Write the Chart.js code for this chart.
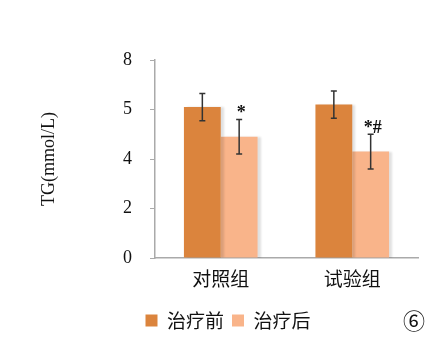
<!DOCTYPE html>
<html>
<head>
<meta charset="utf-8">
<script src="https://cdn.jsdelivr.net/npm/chart.js@4"></script>
<style>
  html, body { margin: 0; padding: 0; background: #fff; }
  #wrap { width: 442px; height: 355px; }
</style>
</head>
<body>
<div id="wrap"><canvas id="chart"></canvas></div>
<script>
// données
var groupes = ['对照组', '试验组'];
var avant = [6.1, 6.2];
var avantErr = [0.55, 0.55];
var apres = [4.9, 4.3];
var apresErr = [0.7, 0.7];
var marques = ['*', '*#'];
var yTicks = ['0', '2', '4', '5', '8'];

var serif = '"Liberation Serif", "DejaVu Serif", serif';
var cjk = '"Noto Sans CJK SC", sans-serif';

// barres d'erreur + astérisques
var errorBars = {
  id: 'errorBars',
  afterDatasetsDraw: function (chart) {
    var ctx = chart.ctx;
    var y = chart.scales.y;
    var errs = [avantErr, apresErr];
    ctx.save();
    ctx.strokeStyle = '#333';
    ctx.lineWidth = 1.5;
    chart.data.datasets.forEach(function (ds, i) {
      var meta = chart.getDatasetMeta(i);
      meta.data.forEach(function (bar, j) {
        var v = ds.data[j], e = errs[i][j];
        var top = y.getPixelForValue(v + e);
        var bot = y.getPixelForValue(v - e);
        ctx.beginPath();
        ctx.moveTo(bar.x, top); ctx.lineTo(bar.x, bot);
        ctx.moveTo(bar.x - 3, top); ctx.lineTo(bar.x + 3, top);
        ctx.moveTo(bar.x - 3, bot); ctx.lineTo(bar.x + 3, bot);
        ctx.stroke();
        if (i === 1) {
          ctx.fillStyle = '#111';
          ctx.font = 'bold 18px ' + serif;
          ctx.textAlign = 'center';
          ctx.textBaseline = 'alphabetic';
          ctx.fillText(marques[j], bar.x + 2, top - 1);
        }
      });
    });
    ctx.restore();
    // numéro de la figure
    ctx.save();
    ctx.fillStyle = '#111';
    ctx.font = '22px "Noto Sans CJK SC", sans-serif';
    ctx.textAlign = 'center';
    ctx.textBaseline = 'middle';
    ctx.fillText('⑥', 414, 321);
    ctx.restore();
  }
};

// ombre légère à droite des barres
var ombre = {
  id: 'ombre',
  beforeDatasetDraw: function (chart) {
    var ctx = chart.ctx;
    ctx.save();
    ctx.shadowColor = 'rgba(0,0,0,0.12)';
    ctx.shadowOffsetX = 3;
    ctx.shadowOffsetY = 0;
    ctx.shadowBlur = 2;
  },
  afterDatasetDraw: function (chart) {
    chart.ctx.restore();
  }
};

var ctx = document.getElementById('chart').getContext('2d');
var myChart = new Chart(ctx, {
  type: 'bar',
  data: {
    labels: groupes,
    datasets: [{
      label: '治疗前',
      data: avant,
      backgroundColor: '#db843d',
      categoryPercentage: 0.56,
      barPercentage: 1
    }, {
      label: '治疗后',
      data: apres,
      backgroundColor: '#f9b48a',
      categoryPercentage: 0.56,
      barPercentage: 1
    }]
  },
  options: {
    responsive: true,
    maintainAspectRatio: false,
    animation: false,
    layout: { padding: { left: 38, right: 24, top: 60, bottom: 15 } },
    plugins: {
      tooltip: { enabled: false },
      legend: {
        position: 'bottom',
        labels: {
          boxWidth: 12,
          boxHeight: 12,
          padding: 8,
          color: '#111',
          font: { family: cjk, size: 19 }
        }
      }
    },
    scales: {
      x: {
        grid: { display: false, drawTicks: false },
        border: { color: '#aaa', width: 1.5 },
        ticks: { padding: 9, color: '#111', font: { family: cjk, size: 19 } },
        afterFit: function (s) { s.height = 45; }
      },
      y: {
        min: 0,
        max: 8,
        grid: { drawOnChartArea: false, drawTicks: true, tickLength: 5, color: '#aaa' },
        border: { color: '#aaa', width: 1.5 },
        ticks: {
          stepSize: 2,
          padding: 18,
          color: '#111',
          font: { family: serif, size: 18 },
          callback: function (v) { return yTicks[v / 2]; }
        },
        title: {
          display: true,
          text: 'TG(mmol/L)',
          color: '#111',
          padding: 0,
          font: { family: serif, size: 18 }
        },
        afterFit: function (s) { s.width = 117; }
      }
    }
  },
  plugins: [ombre, errorBars]
});
</script>
</body>
</html>
